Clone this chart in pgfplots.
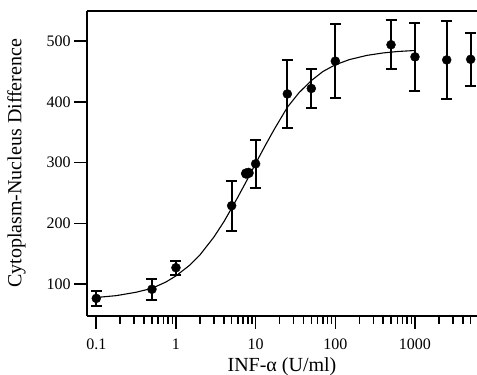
\documentclass[border=0pt]{standalone}
\usepackage{fontspec}
\setmainfont{Liberation Serif}
\usepackage{pgfplots}
\pgfplotsset{compat=1.18}
\begin{document}
\begin{tikzpicture}
\begin{axis}[
  scale only axis,
  width=390bp, height=304.7bp,
  xmode=log,
  xmin=0.0765, xmax=6000,
  ymin=48, ymax=549.5,
  axis x line=box,
  axis y line=left,
  y axis line style={-},
  axis line style={line width=1.6bp},
  xtick pos=bottom, ytick pos=left,
  tick align=outside,
  xtick={0.1,1,10,100,1000},
  xticklabels={0.1,1,10,100,1000},
  minor xtick={0.2,0.3,0.4,0.5,0.6,0.7,0.8,0.9,2,3,4,5,6,7,8,9,20,30,40,50,60,70,80,90,200,300,400,500,600,700,800,900,2000,3000,4000,5000},
  ytick={100,200,300,400,500},
  major tick length=13bp,
  minor tick length=8bp,
  every tick/.style={line width=1.6bp, black},
  /pgf/number format/assume math mode=true,
  tick label style={font=\fontsize{16bp}{18bp}\selectfont},
  xticklabel style={yshift=-7bp},
  label style={font=\fontsize{20bp}{22bp}\selectfont},
  xlabel={INF-α (U/ml)},
  ylabel={Cytoplasm-Nucleus Difference},
  xlabel style={yshift=-0.5bp},
  ylabel style={yshift=14bp},
  clip=false,
]
\coordinate (sw) at (rel axis cs:0,0);
\coordinate (ne) at (rel axis cs:1,1);
% fitted curve
\addplot[black, line width=1.1bp, no marks] coordinates {
(0.1,78) (0.178,81) (0.316,86.6) (0.5,93) (0.75,103.5) (1,113.5) (1.5,131.5)
(2,148) (3,177.6) (4,202.8) (5,225) (6,243.5) (8,274) (10,298.5) (13,326.5)
(17,354) (25,391) (35,415) (50,435) (70,450) (100,461) (150,469.5)
(250,476.5) (400,480.5) (600,482.8) (1000,484.5)
};
% data with error bars
\addplot[black, only marks, mark=*, mark size=4.5bp,
  error bars/.cd, y dir=both, y explicit,
  error bar style={line width=2bp},
  error mark options={rotate=90, mark size=5.5bp, line width=2bp}]
coordinates {
(0.1,76.5) +- (0,12)
(0.5,91.5) +- (0,17.5)
(1,127) +- (0,11.5)
(5,229) +- (0,41)
(10,298) +- (0,40)
(25,413) +- (0,56)
(50,422) +- (0,32)
(100,467) +- (0,61)
(500,494) +- (0,40)
(1000,474) +- (0,56.5)
(2500,469) +- (0,64.5)
(5000,470) +- (0,44)
};
% overlapping points without error bars
\addplot[black, only marks, mark=*, mark size=5bp] coordinates {
(7.6,282) (8.15,283)
};
\end{axis}
\pgfresetboundingbox
\path[use as bounding box] ([shift={(-87bp,-59.3bp)}]sw) rectangle ([shift={(0bp,11bp)}]ne);
\end{tikzpicture}
\end{document}
